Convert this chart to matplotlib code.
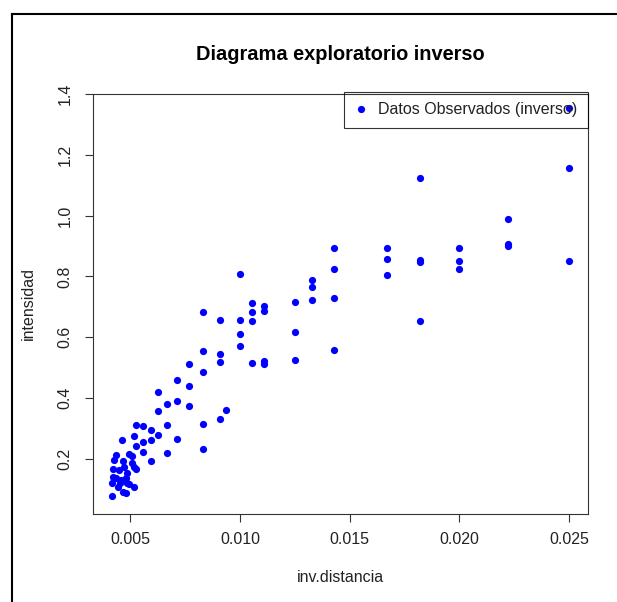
import numpy as np
import matplotlib
matplotlib.use("Agg")
from matplotlib import pyplot as plt
from matplotlib.lines import Line2D

plt.rcParams["font.family"] = ["Liberation Sans", "DejaVu Sans"]

# inverse of distance (1/km) and observed intensity
inv_distancia = [
    0.0250, 0.0250, 0.0250,
    0.0222, 0.0222, 0.0222,
    0.0200, 0.0200, 0.0200,
    0.0182, 0.0182, 0.0182, 0.0182,
    0.0167, 0.0167, 0.0167,
    0.0143, 0.0143, 0.0143, 0.0143,
    0.0133, 0.0133, 0.0133,
    0.0125, 0.0125, 0.0125,
    0.0111, 0.0111, 0.0111, 0.0111,
    0.01053, 0.01053, 0.01053, 0.01053,
    0.0100, 0.0100, 0.0100, 0.0100,
    0.00909, 0.00909, 0.00909, 0.00909,
    0.00934,
    0.00833, 0.00833, 0.00833, 0.00833, 0.00833,
    0.00769, 0.00769, 0.00769,
    0.00714, 0.00714, 0.00714,
    0.00667, 0.00667, 0.00667,
    0.00625, 0.00625, 0.00625,
    0.00592, 0.00592, 0.00592,
    0.00559, 0.00559, 0.00559,
    0.00526, 0.00526, 0.00523,
    0.00517, 0.00517, 0.00515,
    0.00505, 0.00505,
    0.00492, 0.00492,
    0.00486, 0.00486,
    0.00480, 0.00479,
    0.00469,
    0.00465, 0.00465,
    0.00462, 0.00459, 0.00454, 0.00447, 0.00441, 0.00436, 0.00432, 0.00426,
    0.00419, 0.00419,
    0.00417, 0.00417,
]
intensidad = [
    1.355, 1.157, 0.852,
    0.990, 0.906, 0.901,
    0.892, 0.852, 0.826,
    1.123, 0.855, 0.846, 0.653,
    0.895, 0.856, 0.806,
    0.895, 0.826, 0.729, 0.559,
    0.789, 0.767, 0.723,
    0.717, 0.618, 0.526,
    0.703, 0.685, 0.522, 0.513,
    0.712, 0.683, 0.653, 0.515,
    0.808, 0.656, 0.610, 0.572,
    0.656, 0.545, 0.519, 0.333,
    0.361,
    0.683, 0.555, 0.486, 0.314, 0.232,
    0.513, 0.441, 0.375,
    0.460, 0.392, 0.265,
    0.380, 0.311, 0.220,
    0.421, 0.359, 0.278,
    0.294, 0.262, 0.192,
    0.308, 0.255, 0.223,
    0.311, 0.244, 0.166,
    0.275, 0.109, 0.175,
    0.211, 0.186,
    0.216, 0.117,
    0.153, 0.122,
    0.089, 0.137,
    0.173,
    0.194, 0.092,
    0.262, 0.131, 0.120, 0.164, 0.107, 0.214, 0.137, 0.197,
    0.166, 0.142,
    0.122, 0.078,
]

xticks = [0.005, 0.010, 0.015, 0.020, 0.025]
yticks = [0.2, 0.4, 0.6, 0.8, 1.0, 1.2, 1.4]

fig = plt.figure(figsize=(6.17, 6.02), dpi=100)
ax = fig.add_axes([93 / 617, 1 - 514 / 602, 495 / 617, 420 / 602])

ax.plot(inv_distancia, intensidad, "o", color="blue", ms=5.2, mew=0,
        label="Datos Observados (inverso)")

ax.set_xlim(0.00329, 0.02587)
ax.set_ylim(0.019, 1.40)
ax.set_xticks(xticks)
ax.set_xticklabels([f"{v:.3f}" for v in xticks])
ax.set_yticks(yticks)
ax.set_yticklabels([f"{v:.1f}" for v in yticks], rotation=90, va="center")
ax.tick_params(direction="out", length=6, width=0.8, labelsize=11.5,
               color="#333333", labelcolor="#222222")
ax.tick_params(axis="x", pad=7)
ax.tick_params(axis="y", pad=8.5)
for s in ax.spines.values():
    s.set_linewidth(0.8)
    s.set_color("#333333")

ax.set_xlabel("inv.distancia", fontsize=11.5, va="center", color="#222222")
ax.xaxis.set_label_coords(0.5, -64 / 420)
ax.set_ylabel("intensidad", fontsize=11.5, va="center", color="#222222")
ax.yaxis.set_label_coords(-65 / 495, 0.5)

ax.set_title("Diagrama exploratorio inverso", fontsize=14.4, fontweight="bold",
             y=1 + 39 / 420, pad=0, va="center")

leg = ax.legend(loc="upper right", bbox_to_anchor=(1, 1.005), borderaxespad=0,
                fancybox=False, edgecolor="black", facecolor="none",
                framealpha=None, numpoints=1, handlelength=0.8,
                handletextpad=0.7, borderpad=0.65, fontsize=11.5)
leg.get_frame().set_linewidth(0.8)
for t in leg.get_texts():
    t.set_color("#222222")

# outer frame lines
fig.add_artist(Line2D([12 / 617, 1], [1 - 14 / 602, 1 - 14 / 602],
                      transform=fig.transFigure, color="black", lw=1.5))
fig.add_artist(Line2D([12 / 617, 12 / 617], [0, 1 - 14 / 602],
                      transform=fig.transFigure, color="black", lw=1.5))

fig.savefig("out.png", dpi=100)
